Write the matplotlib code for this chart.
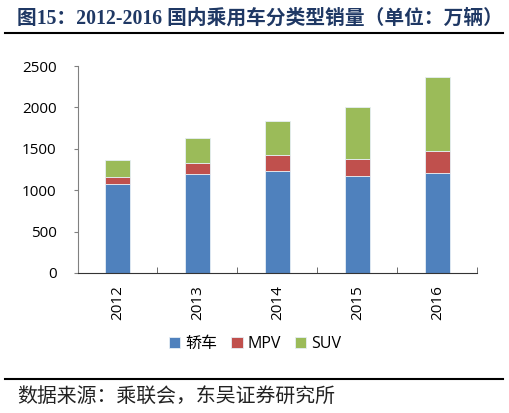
import numpy as np
import matplotlib.pyplot as plt
from matplotlib.lines import Line2D

plt.rcParams['font.family'] = ['Open Sans', 'Noto Sans CJK SC', 'DejaVu Sans']

# 销量数据（万辆）
years = ['2012', '2013', '2014', '2015', '2016']
sedan = [1070, 1198, 1234, 1170, 1210]
mpv = [88, 129, 189, 209, 262]
suv = [205, 301, 411, 623, 901]
series_names = ['轿车', 'MPV', 'SUV']
colors = ['#4F81BD', '#C0504D', '#9BBB59']

fig = plt.figure(figsize=(5.1, 4.13), dpi=100)
ax = fig.add_axes([0.152, 0.339, 0.784, 0.501])

x = np.arange(len(years))
w = 0.31
bottom = np.zeros(len(years))
for vals, name, c in zip([sedan, mpv, suv], series_names, colors):
    ax.bar(x, vals, w, bottom=bottom, color=c, label=name,
           edgecolor='#E6EEF5', linewidth=0.6)
    bottom += np.array(vals)

ax.set_xlim(-0.5, len(years) - 0.5)
ax.set_ylim(0, 2500)
ax.set_yticks(np.arange(0, 2501, 500))

# x 轴刻度在类别之间
ax.set_xticks(x)
ax.set_xticklabels(years, rotation=90, fontsize=11)
ax.set_xticks(np.arange(0.5, len(years), 1), minor=True)
ax.tick_params(axis='x', which='major', length=0, pad=9)
ax.tick_params(axis='x', which='minor', length=4, direction='in', color='#555555')
ax.tick_params(axis='y', length=3, direction='out', color='#808080', labelsize=11, pad=12)

for s in ['top', 'right']:
    ax.spines[s].set_visible(False)
ax.spines['left'].set_color('#808080')
ax.spines['bottom'].set_color('#333333')

handles, labels = ax.get_legend_handles_labels()
fig.legend(handles, labels, loc='center', bbox_to_anchor=(0.5, 0.167), ncol=3,
           frameon=False, fontsize=11.5, handlelength=0.7, handleheight=0.7,
           handletextpad=0.3, columnspacing=0.9)

# 标题和分隔线
fig.text(0.033, 0.956, '图15：2012-2016 国内乘用车分类型销量（单位：万辆）',
         fontsize=14.2, fontweight='bold', color='#1F3864', va='center', ha='left',
         family=['Liberation Serif', 'Noto Sans CJK SC'])
fig.add_artist(Line2D([0.01, 0.986], [0.92, 0.92], color='black', lw=1.5))
fig.add_artist(Line2D([0.01, 0.986], [0.082, 0.082], color='black', lw=1.5))
fig.text(0.033, 0.037, '数据来源：乘联会，东吴证券研究所', fontsize=14.3,
         color='#222222', va='center', ha='left', family=['Noto Sans CJK SC'],
         fontweight='light')

fig.savefig('out.png', dpi=100)
